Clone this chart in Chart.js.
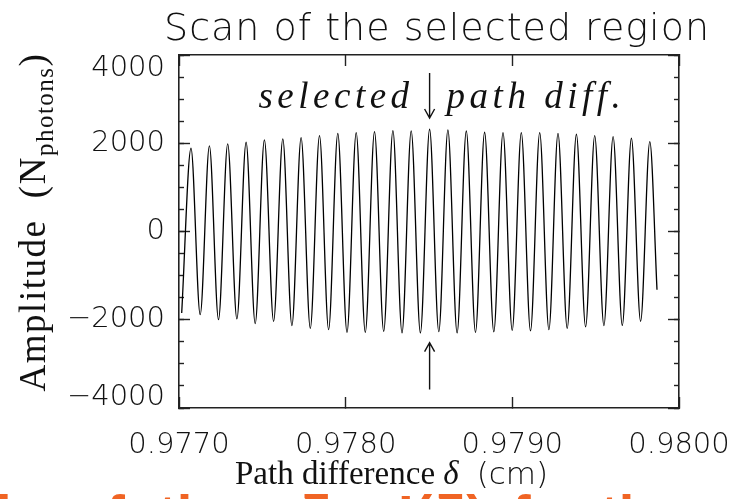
<!DOCTYPE html>
<html>
<head>
<meta charset="utf-8">
<script src="https://cdn.jsdelivr.net/npm/chart.js@4.4.1/dist/chart.umd.min.js"></script>
<style>
  html, body { margin: 0; padding: 0; background: #fff; overflow: hidden; }
  #wrap { width: 736px; height: 499px; }
</style>
</head>
<body>
<div id="wrap"><canvas id="scanChart" width="736" height="499"></canvas></div>
<script>
"use strict";

// Path difference (cm) at the start, at every peak / trough, and at the end of the scan
const pathDiff = [
    0.9770162, 0.9770720, 0.9771272, 0.9771824, 0.9772370, 0.9772922, 0.9773474, 0.9774026,
    0.9774572, 0.9775124, 0.9775676, 0.9776228, 0.9776774, 0.9777326, 0.9777878, 0.9778430,
    0.9778976, 0.9779528, 0.9780080, 0.9780632, 0.9781178, 0.9781730, 0.9782282, 0.9782834,
    0.9783380, 0.9783932, 0.9784484, 0.9785036, 0.9785588, 0.9786134, 0.9786686, 0.9787238,
    0.9787790, 0.9788336, 0.9788888, 0.9789440, 0.9789992, 0.9790538, 0.9791090, 0.9791642,
    0.9792194, 0.9792740, 0.9793292, 0.9793844, 0.9794396, 0.9794942, 0.9795494, 0.9796046,
    0.9796598, 0.9797144, 0.9797696, 0.9798248, 0.9798680
];
// Amplitude (N photons) read at the same places
const amplitude = [
    -1846, 1887, -1885, 1939, -1998, 1984, -1982, 2023,
    -2088, 2075, -2036, 2097, -2133, 2127, -2195, 2172,
    -2224, 2226, -2285, 2240, -2285, 2262, -2262, 2285,
    -2299, 2282, -2299, 2317, -2269, 2301, -2299, 2278,
    -2285, 2249, -2276, 2240, -2240, 2240, -2253, 2240,
    -2224, 2226, -2195, 2204, -2163, 2172, -2133, 2149,
    -2127, 2113, -2036, 2036, -1319
];

const xTicks = [0.977, 0.978, 0.979, 0.980];
const yTicks = [-4000, -2000, 0, 2000, 4000];

// the selected path difference and the two arrows pointing at it
const selectedDelta = 0.9785036;
const arrowDown = [3590, 2572];
const arrowUp = [-3582, -2518];
const labelLevel = 2800;

// words of the slide text that is cut off below the chart, with their left edge
const slideWords = ["l", "of", "the", "δ", "I(δ)", "for", "the"];
const slideWordX = [-4, 72, 158, 298, 398, 512, 600];

const lightFont = "'DejaVu Sans'";
const serif = "'Liberation Serif', 'DejaVu Serif', serif";

/**
 * Draws an arrow from (x, y1) to (x, y2) in pixels, head at y2
 */
function drawArrow(ctx, x, y1, y2){
    let dir = y2 > y1 ? 1 : -1;
    ctx.beginPath();
    ctx.moveTo(x, y1);
    ctx.lineTo(x, y2);
    ctx.moveTo(x - 5, y2 - dir * 9);
    ctx.lineTo(x, y2);
    ctx.lineTo(x + 5, y2 - dir * 9);
    ctx.stroke();
}

/**
 * Draws text parts one after another, each with its own font and baseline shift
 */
function drawParts(ctx, parts, x, y, spacing){
    ctx.letterSpacing = spacing || "0px";
    for (const p of parts){
        ctx.font = p.font;
        ctx.fillText(p.text, x + (p.dx || 0), y + (p.dy || 0));
        x += ctx.measureText(p.text).width + (p.dx || 0) + (p.gap || 0);
    }
    ctx.letterSpacing = "0px";
}

const decorPlugin = {
    id: "decor",
    beforeDraw(chart){
        // IDL keeps the end labels inside the axis
        const items = chart.scales.y.getLabelItems();
        if (!items.shifted && items.length){
            items[0].options.translation[1] -= 11;
            items[items.length - 1].options.translation[1] += 13;
            items.shifted = true;
        }
    },
    afterDraw(chart){
        const ctx = chart.ctx;
        const xs = chart.scales.x;
        const ys = chart.scales.y;
        ctx.save();
        ctx.fillStyle = "#111";
        ctx.strokeStyle = "#111";
        ctx.lineWidth = 1.4;

        // title
        ctx.textAlign = "center";
        ctx.textBaseline = "alphabetic";
        ctx.font = "200 38px " + lightFont;
        ctx.letterSpacing = "1px";
        ctx.fillText("Scan of the selected region", 437, 40);
        ctx.letterSpacing = "0px";

        // annotation
        let px = xs.getPixelForValue(selectedDelta);
        drawArrow(ctx, px, ys.getPixelForValue(arrowDown[0]), ys.getPixelForValue(arrowDown[1]));
        drawArrow(ctx, px, ys.getPixelForValue(arrowUp[0]), ys.getPixelForValue(arrowUp[1]));
        let by = ys.getPixelForValue(labelLevel);
        ctx.font = "italic 37px " + serif;
        ctx.letterSpacing = "4.5px";
        ctx.textAlign = "right";
        ctx.fillText("selected", px - 16, by);
        ctx.textAlign = "left";
        ctx.fillText("path diff.", px + 17, by);
        ctx.letterSpacing = "0px";

        // x axis title
        ctx.textAlign = "left";
        drawParts(ctx, [
            { text: "Path difference ", font: "33px " + serif },
            { text: "δ", font: "italic 33px " + serif, gap: 18 },
            { text: "(cm)", font: "300 31px " + lightFont }
        ], 235, 484);

        // y axis title, rotated, with subscript
        ctx.save();
        ctx.translate(45, 222);
        ctx.rotate(-Math.PI / 2);
        const yParts = [
            { text: "Amplitude  (N", font: "37px " + serif },
            { text: "photons", font: "25px " + serif, dy: 8 },
            { text: ")", font: "37px " + serif }
        ];
        ctx.letterSpacing = "1.5px";
        let total = 0;
        for (const p of yParts){
            ctx.font = p.font;
            total += ctx.measureText(p.text).width;
        }
        drawParts(ctx, yParts, -total / 2, 0, "1.5px");
        ctx.restore();

        // orange text of the slide below, cut off by the frame
        ctx.fillStyle = "#f06424";
        ctx.font = "bold 56px 'Liberation Sans', sans-serif";
        ctx.textAlign = "left";
        slideWords.forEach((w, i) => ctx.fillText(w, slideWordX[i], 534));
        ctx.restore();
    }
};

const axisColor = "#222";

/**
 * Common options for an axis that only shows tick marks
 */
function tickAxis(position, min, max, step, length, weight, fixSize){
    return {
        type: "linear",
        position: position,
        min: min,
        max: max,
        weight: weight,
        ticks: { display: false, stepSize: step },
        grid: { drawOnChartArea: false, tickLength: length, tickColor: axisColor, tickWidth: 1.4 },
        border: { display: weight > 0, color: axisColor, width: 1.6 },
        afterFit: fixSize
    };
}

const points = pathDiff.map((d, i) => ({ x: d, y: amplitude[i] }));

new Chart(document.getElementById("scanChart"), {
    type: "line",
    data: {
        datasets: [{
            data: points,
            borderColor: "#000",
            borderWidth: 1.3,
            pointRadius: 0,
            fill: false,
            cubicInterpolationMode: "monotone"
        }]
    },
    options: {
        responsive: false,
        animation: false,
        devicePixelRatio: 1,
        layout: { padding: { top: 55, right: 57, left: 0, bottom: 0 } },
        plugins: { legend: { display: false }, title: { display: false }, tooltip: { enabled: false } },
        scales: {
            x: {
                type: "linear",
                position: "bottom",
                min: xTicks[0],
                max: xTicks[xTicks.length - 1],
                afterBuildTicks: s => { s.ticks = xTicks.map(v => ({ value: v })); },
                ticks: {
                    maxRotation: 0,
                    autoSkip: false,
                    padding: 31,
                    color: "#111",
                    font: { family: "DejaVu Sans", size: 29, weight: "200" },
                    callback: v => v.toFixed(4)
                },
                grid: { drawOnChartArea: false, tickLength: -11, tickColor: axisColor, tickWidth: 1.4 },
                border: { color: axisColor, width: 1.6 },
                afterFit: s => { s.height = 91; s.paddingLeft = 0; s.paddingRight = 0; }
            },
            x2: Object.assign(tickAxis("top", xTicks[0], xTicks[xTicks.length - 1], 0.001, -11, 1, s => { s.height = 0; s.paddingLeft = 0; s.paddingRight = 0; }), {
                afterBuildTicks: s => { s.ticks = xTicks.map(v => ({ value: v })); }
            }),
            y: {
                type: "linear",
                position: "left",
                weight: 1,
                min: yTicks[0],
                max: yTicks[yTicks.length - 1],
                afterBuildTicks: s => { s.ticks = yTicks.map(v => ({ value: v })); },
                ticks: {
                    padding: 25,
                    color: "#111",
                    font: { family: "DejaVu Sans", size: 29, weight: "200" },
                    callback: v => (v < 0 ? "\u2212" + Math.abs(v) : String(v))
                },
                grid: { drawOnChartArea: false, tickLength: -11, tickColor: axisColor, tickWidth: 1.4 },
                border: { color: axisColor, width: 1.6 },
                afterFit: s => { s.width = 179; s.paddingTop = 0; s.paddingBottom = 0; }
            },
            yMinor: tickAxis("left", yTicks[0], yTicks[yTicks.length - 1], 500, -5, 0, s => { s.width = 0; }),
            y2: Object.assign(tickAxis("right", yTicks[0], yTicks[yTicks.length - 1], 2000, -11, 1, s => { s.width = 0; }), {
                afterBuildTicks: s => { s.ticks = yTicks.map(v => ({ value: v })); }
            }),
            y2Minor: tickAxis("right", yTicks[0], yTicks[yTicks.length - 1], 500, -5, 0, s => { s.width = 0; })
        }
    },
    plugins: [decorPlugin]
});
</script>
</body>
</html>
